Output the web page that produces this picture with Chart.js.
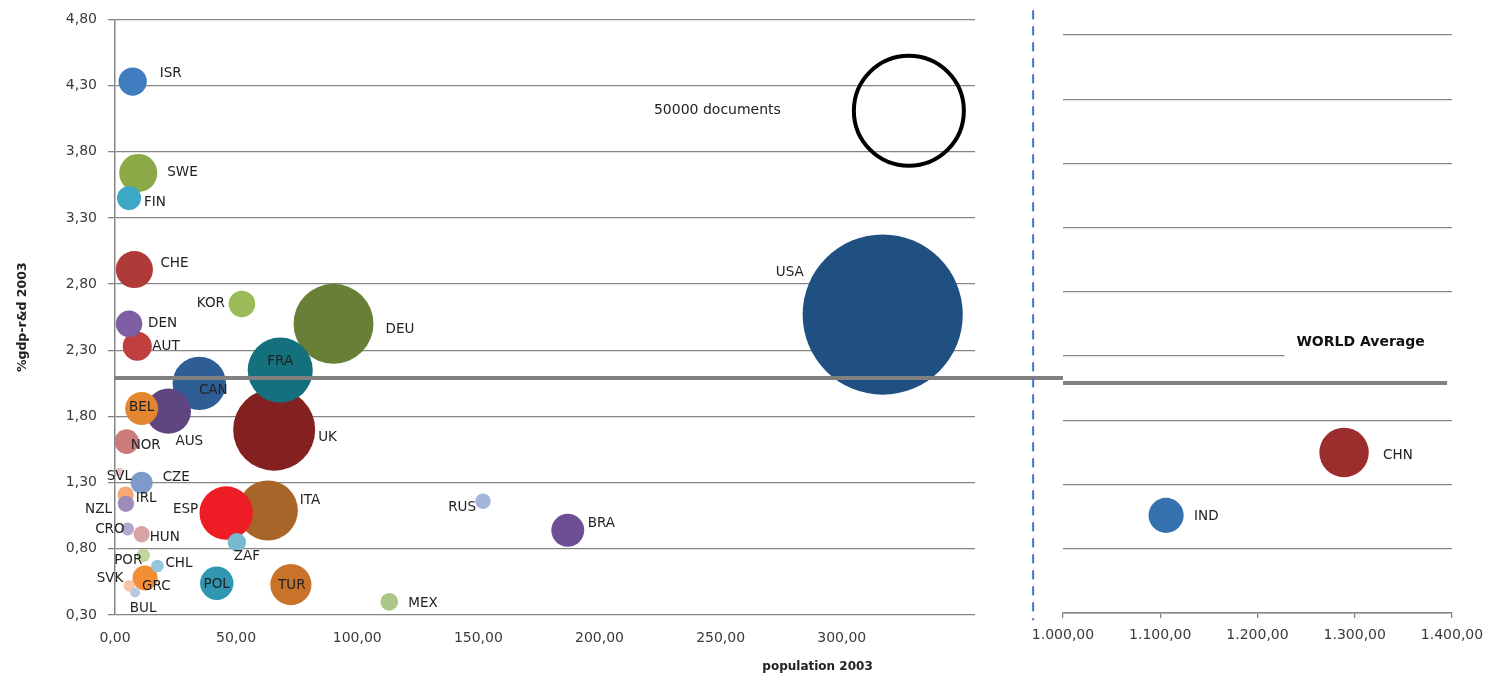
<!DOCTYPE html>
<html>
<head>
<meta charset="utf-8">
<script src="https://cdn.jsdelivr.net/npm/chart.js@4.4.1/dist/chart.umd.min.js"></script>
<style>
  html, body { margin: 0; padding: 0; background: #fff; }
  #wrap { position: relative; width: 1508px; height: 675px; overflow: hidden; }
  #left { position: absolute; left: 0; top: 0; width: 1063px; height: 675px; }
  #right { position: absolute; left: 1000px; top: 0; width: 508px; height: 675px; }
</style>
</head>
<body>
<div id="wrap">
  <div id="left"><canvas id="chartLeft"></canvas></div>
  <div id="right"><canvas id="chartRight"></canvas></div>
</div>
<script>
// countries left of the axis break
const countries  = ['ISR','SWE','FIN','CHE','KOR','DEN','AUT','DEU','FRA','CAN','UK','BEL','AUS','NOR','SVL','CZE','IRL','NZL','CRO','HUN','POR','CHL','GRC','SVK','BUL','ESP','ITA','ZAF','POL','TUR','MEX','RUS','BRA','USA'];
const population = [7.3, 9.6, 5.8, 8.0, 52.4, 5.8, 9.2, 90.2, 68.2, 34.8, 65.7, 11.0, 22.0, 4.8, 1.8, 11.0, 4.4, 4.5, 5.2, 11.0, 11.7, 17.5, 12.4, 5.9, 8.3, 45.9, 63.1, 50.3, 42.0, 72.6, 113.2, 151.9, 186.9, 316.9];
const gdpRD      = [4.33, 3.64, 3.45, 2.91, 2.65, 2.50, 2.33, 2.50, 2.15, 2.05, 1.70, 1.86, 1.84, 1.61, 1.38, 1.30, 1.21, 1.14, 0.95, 0.91, 0.75, 0.67, 0.58, 0.52, 0.47, 1.07, 1.09, 0.85, 0.54, 0.53, 0.40, 1.16, 0.94, 2.57];
const documents  = [3300, 6000, 2400, 5700, 2900, 2900, 3500, 26400, 17500, 11800, 27800, 4500, 8500, 2500, 300, 2000, 1100, 1100, 700, 1100, 750, 650, 2600, 550, 400, 11800, 14900, 1400, 4600, 7000, 1300, 1000, 4500, 106000];
const colors     = ['#3F7CC0','#8BA946','#3DA8C6','#AE3B37','#9BBB59','#7E5FA3','#C0403F','#687F35','#15707E','#2F5D95','#832120','#E2872F','#5F4680','#CC7B7A','#E8C0BE','#7D9ACB','#F6A876','#9C8CBA','#B3A7CD','#D9A3A3','#C1D59C','#92C5D9','#F38E37','#F8C5A8','#B7C8E2','#EE1C25','#A8652A','#78B9CE','#2F97AF','#C9722A','#ACC688','#A3B5DA','#6E4E94','#1F5081'];

// countries right of the axis break
const bigCountries  = ['IND','CHN'];
const bigPopulation = [1106, 1289];
const bigGdpRD      = [1.06, 1.55];
const bigDocuments  = [5100, 10100];
const bigColors     = ['#3471AE','#9B2D2D'];

// size key bubble
const refDocuments = 50000;
const refLabel = '50000 documents';
const refPopulation = 327.7;
const refGdpRD = 4.11;

const worldAverage = 2.09;
const yTicks = [0.30, 0.80, 1.30, 1.80, 2.30, 2.80, 3.30, 3.80, 4.30, 4.80];
const xTicksLeft = [0, 50, 100, 150, 200, 250, 300];
const xTicksRight = [1000, 1100, 1200, 1300, 1400];

// label placement: [dx, dy, align]
const labelOffsets = {
  ISR: [27, -8, 'left'], SWE: [29, 0, 'left'], FIN: [15, 4, 'left'], CHE: [26, -6, 'left'],
  KOR: [-17, 0, 'right'], DEN: [19, 0, 'left'], AUT: [15, 0, 'left'], DEU: [52, 6, 'left'],
  FRA: [0, -9, 'center'], CAN: [14, 7, 'center'], UK: [44, 8, 'left'], BEL: [0, -1, 'center'],
  AUS: [21, 30, 'center'], NOR: [4, 4, 'left'], SVL: [0, 4, 'center'], CZE: [21, -5, 'left'],
  IRL: [10, 4, 'left'], NZL: [-14, 6, 'right'], CRO: [-3, 1, 'right'], HUN: [8, 3, 'left'],
  POR: [-1, 5, 'right'], CHL: [8, -3, 'left'], GRC: [-3, 9, 'left'], SVK: [-6, -7, 'right'],
  BUL: [8, 16, 'center'], ESP: [-28, -4, 'right'], ITA: [32, -10, 'left'], ZAF: [10, 14, 'center'],
  POL: [0, 1, 'center'], TUR: [1, 1, 'center'], MEX: [19, 2, 'left'], RUS: [-7, 6, 'right'],
  BRA: [20, -7, 'left'], USA: [-79, -42, 'right'], CHN: [39, 3, 'left'], IND: [28, 1, 'left'],
  '50000 documents': [-128, 0, 'right']
};

const REF_R = 55;
const bubbleR = d => Math.sqrt(d / refDocuments) * REF_R;
const fmt = v => Number(v).toLocaleString('de-DE', { minimumFractionDigits: 2, maximumFractionDigits: 2 });
const GRID = '#858585';
const TICK = '#3a3a3a';

Chart.defaults.font.family = '"DejaVu Sans", sans-serif';

// biggest bubbles first so the small ones stay on top
function buildPoints(names, xs, ys, docs, cols) {
  const idx = names.map((_, i) => i).sort((a, b) => docs[b] - docs[a]);
  return {
    points: idx.map(i => ({ x: xs[i], y: ys[i], r: bubbleR(docs[i]) })),
    names: idx.map(i => names[i]),
    colors: idx.map(i => cols[i])
  };
}

const labelPlugin = {
  id: 'countryLabels',
  afterDatasetsDraw(chart) {
    const ctx = chart.ctx;
    ctx.save();
    ctx.fillStyle = '#222';
    ctx.textBaseline = 'middle';
    chart.data.datasets.forEach((ds, di) => {
      if (!ds.names) return;
      ctx.font = (ds.labelSize || 13.5) + 'px "DejaVu Sans"';
      chart.getDatasetMeta(di).data.forEach((pt, i) => {
        const name = ds.names[i];
        const off = labelOffsets[name] || [0, 0, 'center'];
        ctx.textAlign = off[2];
        ctx.fillText(name, pt.x + off[0], pt.y + off[1]);
      });
    });
    ctx.restore();
  }
};

function avgLinePlugin(fromX, toX) {
  return {
    id: 'worldAverage',
    afterDatasetsDraw(chart) {
      const { ctx, scales: { x, y } } = chart;
      const py = y.getPixelForValue(worldAverage);
      ctx.save();
      ctx.strokeStyle = '#808080';
      ctx.lineWidth = 4;
      ctx.beginPath();
      ctx.moveTo(x.getPixelForValue(fromX), py);
      ctx.lineTo(x.getPixelForValue(toX), py);
      ctx.stroke();
      ctx.restore();
    }
  };
}

const breakPlugin = {
  id: 'axisBreak',
  afterDatasetsDraw(chart) {
    const { ctx, scales: { x, y } } = chart;
    const px = x.getPixelForValue(379);
    ctx.save();
    ctx.strokeStyle = '#3A7BC8';
    ctx.lineWidth = 2;
    ctx.setLineDash([9, 7]);
    ctx.beginPath();
    ctx.moveTo(px, y.getPixelForValue(4.87));
    ctx.lineTo(px, y.getPixelForValue(0.26));
    ctx.stroke();
    ctx.restore();
  }
};

const xTitlePlugin = {
  id: 'xTitle',
  afterDraw(chart) {
    const { ctx, scales: { x }, chartArea } = chart;
    ctx.save();
    ctx.font = 'bold 12px "DejaVu Sans"';
    ctx.fillStyle = '#222';
    ctx.textAlign = 'center';
    ctx.textBaseline = 'middle';
    ctx.fillText('population 2003', x.getPixelForValue(290), chartArea.bottom + 52);
    ctx.restore();
  }
};

const worldLabelPlugin = {
  id: 'worldLabel',
  afterDatasetsDraw(chart) {
    const { ctx, scales: { x, y }, chartArea } = chart;
    const px = x.getPixelForValue(1240);
    const py = y.getPixelForValue(2.41);
    ctx.save();
    ctx.fillStyle = '#fff';
    ctx.fillRect(px - 12, py - 16, chartArea.right + 4 - (px - 12), 32);
    ctx.font = 'bold 14px "DejaVu Sans"';
    ctx.fillStyle = '#111';
    ctx.textAlign = 'left';
    ctx.textBaseline = 'middle';
    ctx.fillText('WORLD Average', px, py);
    ctx.restore();
  }
};

const yTickBuilder = s => { s.ticks = yTicks.map(v => ({ value: v })); };

const left = buildPoints(countries, population, gdpRD, documents, colors);
new Chart(document.getElementById('chartLeft'), {
  type: 'bubble',
  data: {
    datasets: [
      { data: left.points, names: left.names, backgroundColor: left.colors, borderWidth: 0 },
      { data: [{ x: refPopulation, y: refGdpRD, r: bubbleR(refDocuments) }], names: [refLabel], labelSize: 14,
        backgroundColor: 'rgba(255,255,255,0)', borderColor: '#000', borderWidth: 4 }
    ]
  },
  options: {
    responsive: true, maintainAspectRatio: false, animation: false, events: [],
    layout: { autoPadding: false, padding: { top: 19, right: 88, left: 0, bottom: 0 } },
    plugins: { legend: { display: false }, tooltip: { enabled: false } },
    scales: {
      x: {
        type: 'linear', min: 0, max: 355,
        afterBuildTicks: s => { s.ticks = xTicksLeft.map(v => ({ value: v })); },
        afterFit: s => { s.height = 60; },
        grid: { display: false, drawTicks: false },
        border: { display: false },
        ticks: { padding: 15, color: TICK, font: { size: 14 }, callback: fmt, maxRotation: 0 }
      },
      y: {
        type: 'linear', min: 0.3, max: 4.8,
        afterBuildTicks: yTickBuilder,
        afterFit: s => { s.width = 115; },
        grid: { color: GRID, lineWidth: 1.3, tickLength: 7 },
        border: { color: GRID, width: 1.5 },
        ticks: { padding: 11, color: TICK, font: { size: 14 }, callback: fmt },
        title: { display: true, text: '%gdp-r&d 2003', color: '#222', font: { size: 12.5, weight: 'bold' }, padding: { top: 15, bottom: 0 } }
      }
    }
  },
  plugins: [avgLinePlugin(0, 392), breakPlugin, labelPlugin, xTitlePlugin]
});

const right = buildPoints(bigCountries, bigPopulation, bigGdpRD, bigDocuments, bigColors);
new Chart(document.getElementById('chartRight'), {
  type: 'bubble',
  data: {
    datasets: [{ data: right.points, names: right.names, backgroundColor: right.colors, borderWidth: 0 }]
  },
  options: {
    responsive: true, maintainAspectRatio: false, animation: false, events: [],
    layout: { autoPadding: false, padding: { top: 35, right: 56, left: 63, bottom: 0 } },
    plugins: { legend: { display: false }, tooltip: { enabled: false } },
    scales: {
      x: {
        type: 'linear', min: 1000, max: 1400,
        afterBuildTicks: s => { s.ticks = xTicksRight.map(v => ({ value: v })); },
        afterFit: s => { s.height = 62; },
        grid: { drawOnChartArea: false, color: GRID, tickLength: 5, lineWidth: 1.3 },
        border: { color: GRID, width: 1.5 },
        ticks: { padding: 9, color: TICK, font: { size: 14 }, callback: fmt, maxRotation: 0 }
      },
      y: {
        type: 'linear', min: 0.3, max: 4.8,
        afterBuildTicks: yTickBuilder,
        afterFit: s => { s.width = 0; },
        grid: { color: GRID, lineWidth: 1.3, drawTicks: false },
        border: { display: false },
        ticks: { display: false }
      }
    }
  },
  plugins: [avgLinePlugin(1000, 1395), worldLabelPlugin, labelPlugin]
});
</script>
</body>
</html>
